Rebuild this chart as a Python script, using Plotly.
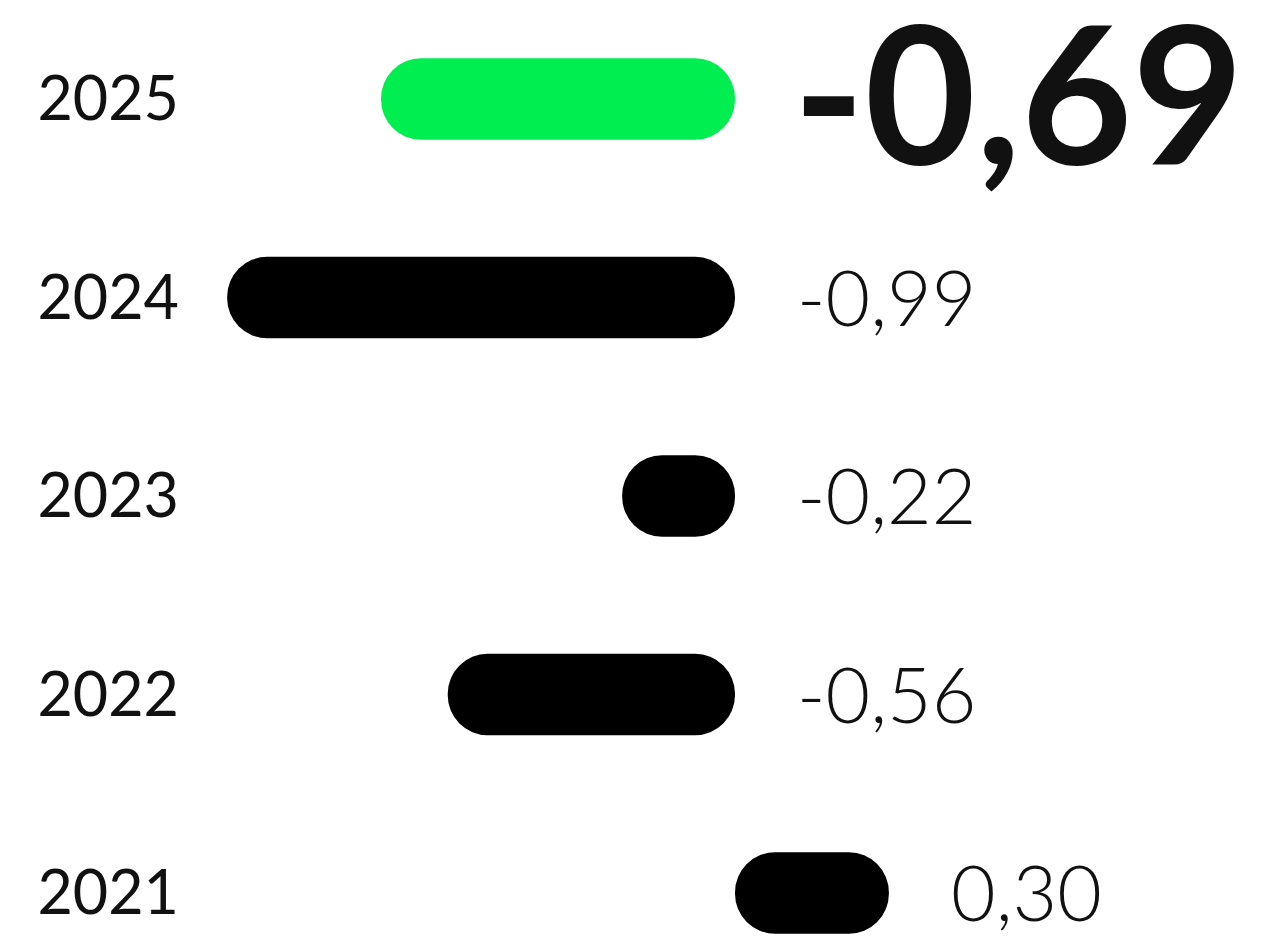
import plotly.graph_objects as go

years = ["2021", "2022", "2023", "2024", "2025"]
values = [0.30, -0.56, -0.22, -0.99, -0.69]
labels = ["0,30", "-0,56", "-0,22", "-0,99", "-0,69"]
colors = ["#000000", "#000000", "#000000", "#000000", "#00EE4F"]

W, H = 1281, 942
px_per_unit = 513.0
zero_px = 735.0
left_margin = 200
x_min = -(zero_px - left_margin) / px_per_unit
x_max = (W - zero_px) / px_per_unit

row_px = 198.5
top_center = 99.0
y_top = 4 + top_center / row_px
y_bot = y_top - H / row_px

ypos = list(range(len(years)))

fig = go.Figure()
fig.add_trace(go.Bar(
    x=values, base=[0] * len(values), y=ypos, orientation="h",
    marker=dict(color=colors, cornerradius=60, line=dict(width=0)),
    width=0.41, hoverinfo="skip",
))

for i, (v, lab) in enumerate(zip(values, labels)):
    big = i == len(values) - 1
    fig.add_annotation(
        x=max(v, 0), y=i, xref="x", yref="y", text=lab, showarrow=False,
        xanchor="left", yanchor="middle", xshift=(56 if big else 60),
        yshift=(10 if big else 2),
        font=dict(family="Lato", size=(192 if big else 77),
                  weight=(700 if big else 300), color="#111111"),
    )

fig.update_layout(
    width=W, height=H, margin=dict(l=left_margin, r=0, t=0, b=0),
    paper_bgcolor="white", plot_bgcolor="white", showlegend=False,
    xaxis=dict(range=[x_min, x_max], visible=False, fixedrange=True),
    yaxis=dict(range=[y_bot, y_top], tickmode="array",
               tickvals=ypos, ticktext=years, fixedrange=True,
               showgrid=False, zeroline=False, showline=False, ticks="",
               ticklabelstandoff=20,
               tickfont=dict(family="Lato", size=61, color="#111111")),
)

fig.write_html("out.html", config={"displayModeBar": False},
               post_script="document.body.style.margin='0px';document.body.style.overflow='hidden';")
